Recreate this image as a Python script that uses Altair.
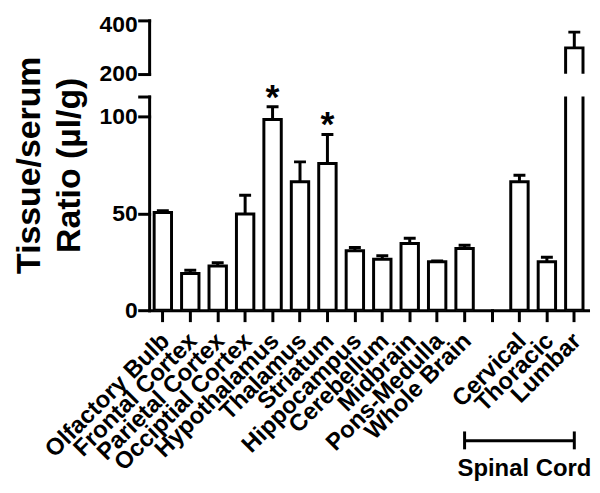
import altair as alt
import pandas as pd

# ---- data ----
regions = ["Olfactory Bulb", "Frontal Cortex", "Parietal Cortex", "Occiptial Cortex",
           "Hypothalamus", "Thalamus", "Striatum", "Hippocampus", "Cerebellum",
           "Midbrain", "Pons-Medulla", "Whole Brain", " ", "Cervical", "Thoracic", "Lumbar"]
ratio = [50.5, 19.0, 22.8, 49.7, 98.6, 66.4, 75.9, 30.7, 26.4, 34.5, 25.0, 31.9,
         None, 66.4, 25.0, 297.0]
err_top = [51.4, 20.7, 24.5, 59.5, 105.2, 76.7, 90.9, 32.4, 28.1, 37.2, 25.4, 33.6,
           None, 69.8, 27.4, 356.0]
stars = ["", "", "", "", "*", "", "*", "", "", "", "", "", "", "", "", ""]

low_ticks = [0, 50, 100, 110.5]
high_ticks = [200, 400]
low_domain = [0, 110.5]
high_domain = [200, 400]

bracket_ends = ["Whole Brain", "Lumbar"]
bracket_label = ["Spinal Cord"]
bracket_label_at = ["Cervical"]

df = pd.DataFrame({"region": regions, "ratio": ratio, "err": err_top, "star": stars})
br_line = pd.DataFrame({"start": [bracket_ends[0]], "end": [bracket_ends[1]]})
br_caps = pd.DataFrame({"pos": bracket_ends})
br_text = pd.DataFrame({"pos": bracket_label_at, "label": bracket_label})

FONT = "Liberation Sans"
W = 441.6
H_LOW = 215
H_HIGH = 53.7

xscale = alt.Scale(domain=regions, paddingInner=0.366, paddingOuter=0.183)
lo_scale = alt.Scale(domain=low_domain, nice=False, zero=False)
hi_scale = alt.Scale(domain=high_domain, nice=False, zero=False)

x_axis_low = alt.Axis(title=None, labelAngle=-45, labelAlign="right", labelBaseline="middle",
                      labelFontSize=24, labelPadding=17, labelOffset=3, tickSize=10,
                      labelOverlap=False, labelLimit=300)

Y_TITLE = ["Tissue/serum", "Ratio (µl/g)"]
y_axis_low = alt.Axis(values=low_ticks, labelExpr="datum.value > 105 ? '' : datum.label",
                      title=Y_TITLE, titleFontSize=34,
                      titleFont=FONT, titleFontWeight="bold", titleX=-110, titleY=68.7,
                      titleBaseline="alphabetic", titleLineHeight=40, titleAlign="center",
                      titleAngle=270, titleColor="black", tickSize=10, labelFontSize=23,
                      labelPadding=2)
y_axis_high = alt.Axis(values=high_ticks, title=None, tickSize=10, labelFontSize=23,
                       labelPadding=2,
                       labelOffset={"condition": {"test": "datum.value == 400", "value": 4},
                                    "value": 0})


def xenc(field="region:N", axis=x_axis_low):
    return alt.X(field, scale=xscale, sort=None, axis=axis)


def ylow(field):
    return alt.Y(field, scale=lo_scale, axis=y_axis_low, title=Y_TITLE)


def yhigh(field):
    return alt.Y(field, scale=hi_scale, axis=y_axis_high, title=None)


base = alt.Chart(df)

# ---- lower panel ----
bars_low = base.mark_bar(fill="white", stroke="black", strokeWidth=3, clip=True).encode(
    x=xenc(), y=ylow("ratio:Q"))
err_low = base.mark_rule(strokeWidth=3, color="black", opacity=1, clip=True).encode(
    x=xenc(), y=ylow("ratio:Q"), y2="err:Q")
cap_low = base.mark_tick(thickness=3, size=12, color="black", opacity=1, clip=True).encode(
    x=xenc(), y=ylow("err:Q"))
star_low = base.transform_filter("datum.star != ''").mark_text(
    fontSize=36, fontWeight="bold", font=FONT, baseline="alphabetic", dy=2, color="black"
).encode(x=xenc(), y=ylow("err:Q"), text="star:N")

br_rule = alt.Chart(br_line).mark_rule(strokeWidth=3, color="black").encode(
    x=xenc("start:N"), x2="end:N", y=alt.value(346.4))
br_cap = alt.Chart(br_caps).mark_rule(strokeWidth=3, color="black").encode(
    x=xenc("pos:N"), y=alt.value(337), y2=alt.value(355))
br_lab = alt.Chart(br_text).mark_text(fontSize=24, fontWeight="bold", font=FONT,
                                      baseline="alphabetic", align="center", dx=5,
                                      color="black").encode(
    x=xenc("pos:N"), y=alt.value(381.7), text="label:N")

low = alt.layer(bars_low, err_low, cap_low, star_low, br_rule, br_cap, br_lab).properties(
    width=W, height=H_LOW)

# ---- upper panel ----
hbase = base.transform_filter("datum.ratio > 200")
bars_high = hbase.mark_bar(fill="white", stroke="black", strokeWidth=3, clip=True).encode(
    x=xenc(axis=None), y=yhigh("ratio:Q"))
err_high = hbase.mark_rule(strokeWidth=3, color="black", opacity=1, clip=True).encode(
    x=xenc(axis=None), y=yhigh("ratio:Q"), y2="err:Q")
cap_high = hbase.mark_tick(thickness=3, size=12, color="black", opacity=1, clip=True).encode(
    x=xenc(axis=None), y=yhigh("err:Q"))

high = alt.layer(bars_high, err_high, cap_high).properties(width=W, height=H_HIGH)

chart = alt.vconcat(high, low, spacing=22.6, bounds="flush").properties(
    padding={"left": 5, "top": 4, "right": 0, "bottom": 0}
).configure_view(stroke=None).configure_axis(
    domainWidth=3, domainColor="black", tickWidth=3, tickColor="black", grid=False,
    labelFont=FONT, labelFontWeight="bold", labelColor="black", domainCap="square",
    tickCap="square"
)

chart.save("out.html", embed_options={"renderer": "svg", "actions": False})
